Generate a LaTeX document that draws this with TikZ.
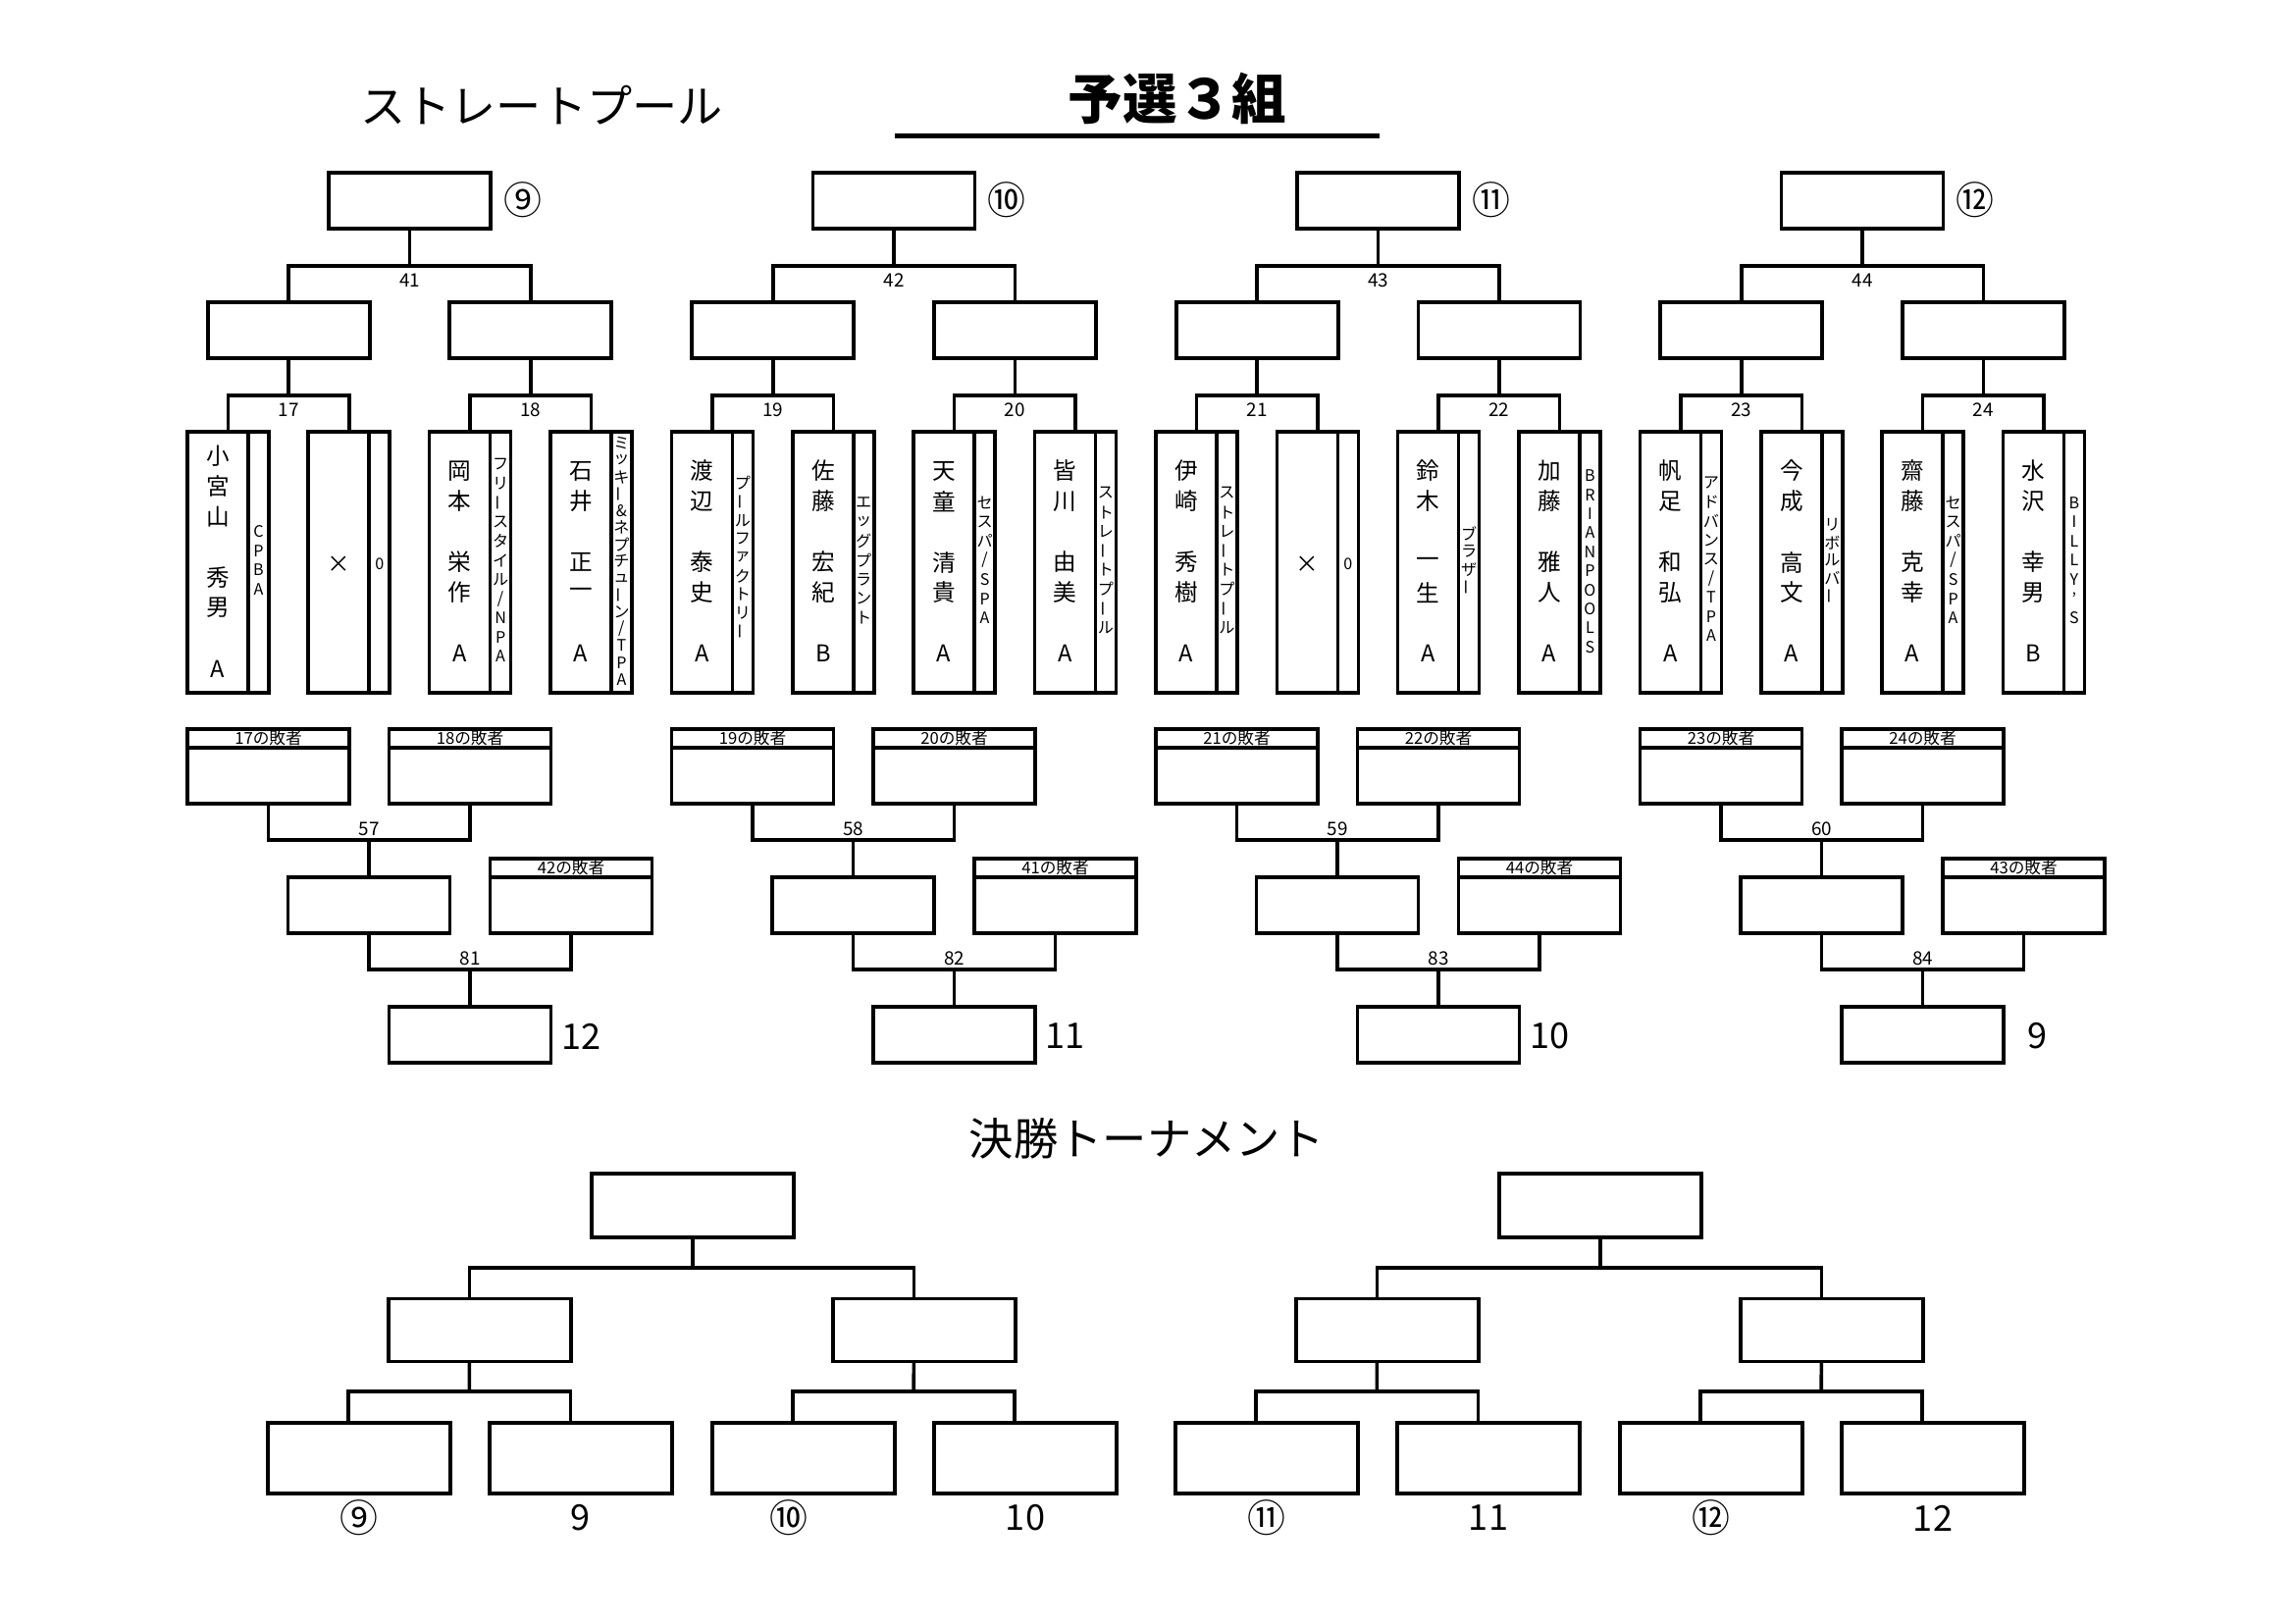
\documentclass[tikz,border=0pt]{standalone}
\usepackage{fontspec}
\setmainfont{Noto Sans CJK JP}
\usepackage{graphicx}
\newcommand\ux{0.36pt}
\newcommand\VB{\rotatebox[origin=c]{90}{ー}}
\newcommand\SL{/}
\newcommand\vtext[6]{%
  \foreach \c [count=\i] in {#6} {\xdef\myvn{\i}}%
  \foreach \c [count=\i] in {#6} {%
    \pgfmathsetmacro\yy{#3+(\i-(\myvn+1)/2)*#4}%
    \node[#5] (#1-\i) at (#2,\yy) {\c};
  }%
}
\tikzset{
  ln/.style={line width=1.3pt},
  bx/.style={draw, line width=1.3pt, inner sep=0pt, outer sep=0pt},
  sbox/.style={bx, minimum width=165*\ux, minimum height=57*\ux},
  pbox/.style={bx, minimum width=83*\ux, minimum height=266*\ux},
  hbox/.style={bx, minimum width=165*\ux, minimum height=19*\ux, font=\fontsize{6}{6}\selectfont},
  bbox/.style={bx, minimum width=165*\ux, minimum height=57*\ux},
  ftop/.style={bx, minimum width=206*\ux, minimum height=65*\ux},
  fmid/.style={bx, minimum width=186*\ux, minimum height=64*\ux},
  fbot/.style={bx, minimum width=186*\ux, minimum height=72*\ux},
  lbl/.style={inner sep=0pt, font=\fontsize{6.8}{7}\selectfont},
  nm/.style={inner sep=0pt, font=\fontsize{8.5}{9}\selectfont},
  st/.style={inner sep=0pt, font=\fontsize{5.8}{6}\selectfont},
  big/.style={inner sep=0pt, font=\fontsize{13}{14}\selectfont},
  circ/.style={inner sep=0pt, font=\fontsize{14}{15}\selectfont},
  ttl/.style={inner sep=0pt, font=\fontsize{16.6}{18}\selectfont},
}
\begin{document}
\begin{tikzpicture}[x=0.36pt,y=-0.36pt]
\fill[white] (0,0) rectangle (2339,1654);
\path[use as bounding box] (0,0) rectangle (2339,1654);

% titles
\node[ttl] (t1) at (552,107) {ストレートプール};
\node[inner sep=0pt, font=\fontsize{20}{22}\selectfont\bfseries] (t2) at (1200,100) {予選３組};
\coordinate (ul1) at (912,138.5);
\coordinate (ul2) at (1406,138.5);
\draw[line width=1.8pt] (ul1) -- (ul2);
\node[inner sep=0pt, font=\fontsize{16.3}{18}\selectfont] (t3) at (1169,1160) {決勝トーナメント};

% preliminary groups
\foreach \g/\ci/\tm/\pa/\pb/\lc/\ls/\fm/\fl/\fx in {0/⑨/41/17/18/42/57/81/12/422, 1/⑩/42/19/20/41/58/82/11/422, 2/⑪/43/21/22/44/59/83/10/422, 3/⑫/44/23/24/43/60/84/9/416}{
  \pgfmathsetmacro\G{191+493.5*\g}
  \foreach \k in {0,...,3}{
    \pgfmathsetmacro\xP{\G+123.3*\k+41.5}
    \node[pbox] (p\g\k) at (\xP,573) {};
    \draw[ln] ([xshift=-7.56pt]p\g\k.north east) -- ([xshift=-7.56pt]p\g\k.south east);
  }
  \pgfmathsetmacro\xa{\G+103.2}
  \pgfmathsetmacro\xb{\G+349.8}
  \pgfmathsetmacro\xt{\G+226.5}
  \node[sbox] (t\g) at (\xt,204.5) {};
  \node[circ] (c\g) at ({\G+341.5},204) {\ci};
  \node[sbox] (ra\g) at (\xa,336.5) {};
  \node[sbox] (rb\g) at (\xb,336.5) {};
  \coordinate (bt\g) at (\xt,271);
  \coordinate (ba\g) at (\xa,403);
  \coordinate (bb\g) at (\xb,403);
  \draw[ln] (t\g.south) -- (bt\g);
  \draw[ln] (ra\g.north) |- (bt\g) -| (rb\g.north);
  \draw[ln] (ra\g.south) -- (ba\g);
  \draw[ln] (rb\g.south) -- (bb\g);
  \draw[ln] (p\g0.north) |- (ba\g) -| (p\g1.north);
  \draw[ln] (p\g2.north) |- (bb\g) -| (p\g3.north);
  \node[lbl] (nt\g) at (\xt,286) {\tm};
  \node[lbl] (na\g) at (\xa,418) {\pa};
  \node[lbl] (nb\g) at (\xb,418) {\pb};
  % losers' side
  \node[hbox] (lah\g) at ({\G+82.5},752.5) {\pa の敗者};
  \node[bbox] (lab\g) at ({\G+82.5},790.5) {};
  \node[hbox] (lbh\g) at ({\G+288},752.5) {\pb の敗者};
  \node[bbox] (lbb\g) at ({\G+288},790.5) {};
  \node[sbox] (mid\g) at ({\G+185},922.5) {};
  \node[hbox] (lch\g) at ({\G+391},884.5) {\lc の敗者};
  \node[bbox] (lcb\g) at ({\G+391},922.5) {};
  \node[sbox] (fin\g) at ({\G+288},1054.5) {};
  \coordinate (bs\g) at ({\G+185},856);
  \coordinate (bf\g) at ({\G+288},988);
  \draw[ln] (lab\g.south) |- (bs\g) -| (lbb\g.south);
  \draw[ln] (bs\g) -- (mid\g.north);
  \draw[ln] (mid\g.south) |- (bf\g) -| (lcb\g.south);
  \draw[ln] (bf\g) -- (fin\g.north);
  \node[lbl] (ns\g) at ({\G+185},845) {\ls};
  \node[lbl] (nf\g) at ({\G+288},977) {\fm};
  \node[big, anchor=east] (fl\g) at ({\G+\fx},1056) {\fl};
}

% player names and clubs
\vtext{n00}{222}{573}{31}{nm}{小,宮,山,{},秀,男,{},A}
\vtext{s00}{263.5}{571}{19.6}{st}{C,P,B,A}
\node[nm] (n01) at (345.3,575) {×};
\node[st] (s01) at (386.8,575) {0};
\vtext{n02}{468.6}{573}{31}{nm}{岡,本,{},栄,作,{},A}
\vtext{s02}{510.1}{571}{19.6}{st}{フ,リ,\VB,ス,タ,イ,ル,\SL,N,P,A}
\vtext{n03}{591.9}{573}{31}{nm}{石,井,{},正,一,{},A}
\vtext{s03}{633.4}{572}{17.2}{st}{ミ,ッ,キ,\VB,\&,ネ,プ,チ,ュ,\VB,ン,\SL,T,P,A}

\vtext{n10}{715.5}{573}{31}{nm}{渡,辺,{},泰,史,{},A}
\vtext{s10}{757}{568}{18.9}{st}{プ,\VB,ル,フ,ァ,ク,ト,リ,\VB}
\vtext{n11}{838.8}{573}{31}{nm}{佐,藤,{},宏,紀,{},B}
\vtext{s11}{880.3}{571}{19.6}{st}{エ,ッ,グ,プ,ラ,ン,ト}
\vtext{n12}{962.1}{573}{31}{nm}{天,童,{},清,貴,{},A}
\vtext{s12}{1003.6}{571}{19.6}{st}{セ,ス,パ,\SL,S,P,A}
\vtext{n13}{1085.4}{573}{31}{nm}{皆,川,{},由,美,{},A}
\vtext{s13}{1126.9}{571}{19.6}{st}{ス,ト,レ,\VB,ト,プ,\VB,ル}

\vtext{n20}{1209}{573}{31}{nm}{伊,崎,{},秀,樹,{},A}
\vtext{s20}{1250.5}{571}{19.6}{st}{ス,ト,レ,\VB,ト,プ,\VB,ル}
\node[nm] (n21) at (1332.3,575) {×};
\node[st] (s21) at (1373.8,575) {0};
\vtext{n22}{1455.6}{573}{31}{nm}{鈴,木,{},一,生,{},A}
\vtext{s22}{1497.1}{571}{18.3}{st}{ブ,ラ,ザ,\VB}
\vtext{n23}{1578.9}{573}{31}{nm}{加,藤,{},雅,人,{},A}
\vtext{s23}{1620.4}{572}{19.4}{st}{B,R,I,A,N,P,O,O,L,S}

\vtext{n30}{1702.5}{573}{31}{nm}{帆,足,{},和,弘,{},A}
\vtext{s30}{1744}{570}{19.4}{st}{ア,ド,バ,ン,ス,\SL,T,P,A}
\vtext{n31}{1825.8}{573}{31}{nm}{今,成,{},高,文,{},A}
\vtext{s31}{1867.3}{571}{18}{st}{リ,ボ,ル,バ,\VB}
\vtext{n32}{1949.1}{573}{31}{nm}{齋,藤,{},克,幸,{},A}
\vtext{s32}{1990.6}{571}{19.6}{st}{セ,ス,パ,\SL,S,P,A}
\vtext{n33}{2072.4}{573}{31}{nm}{水,沢,{},幸,男,{},B}
\vtext{s33}{2113.9}{571}{19.6}{st}{B,I,L,L,Y,’,S}

% final tournament
\foreach \o/\ca/\na/\cb/\nb/\sh in {0/⑨/9/⑩/10/-15, 925/⑪/11/⑫/12/0}{
  \node[ftop] (ft\o) at ({706+\o},1228.5) {};
  \node[fmid] (fma\o) at ({489.2+\o},1355.3) {};
  \node[fmid] (fmb\o) at ({942.2+\o},1355.3) {};
  \node[fbot] (fba\o) at ({365.9+\o},1485.9) {};
  \node[fbot] (fbb\o) at ({592.2+\o},1485.9) {};
  \node[fbot] (fbc\o) at ({818.9+\o},1485.9) {};
  \node[fbot] (fbd\o) at ({1045+\o},1485.9) {};
  \coordinate (fc\o) at ({706+\o},1292);
  \coordinate (fca\o) at ({478.3+\o},1418);
  \coordinate (fcb\o) at ({931.2+\o},1418);
  \draw[ln] (ft\o.south) -- (fc\o);
  \draw[ln] ([xshift=-3.9pt]fma\o.north) |- (fc\o) -| ([xshift=-3.9pt]fmb\o.north);
  \draw[ln] ([xshift=-3.9pt]fma\o.south) -- (fca\o);
  \draw[ln] ([xshift=-3.9pt]fmb\o.south) -- (fcb\o);
  \draw[ln] ([xshift=-3.9pt]fba\o.north) |- (fca\o) -| ([xshift=-3.9pt]fbb\o.north);
  \draw[ln] ([xshift=-3.9pt]fbc\o.north) |- (fcb\o) -| ([xshift=-3.9pt]fbd\o.north);
  \node[circ] (fla\o) at ({366+\o},1547) {\ca};
  \node[big] (flb\o) at ({592+\o},1547) {\na};
  \node[circ] (flc\o) at ({819+\o+\sh},1547) {\cb};
  \node[big] (fld\o) at ({1045+\o},1547) {\nb};
}
\end{tikzpicture}
\end{document}
